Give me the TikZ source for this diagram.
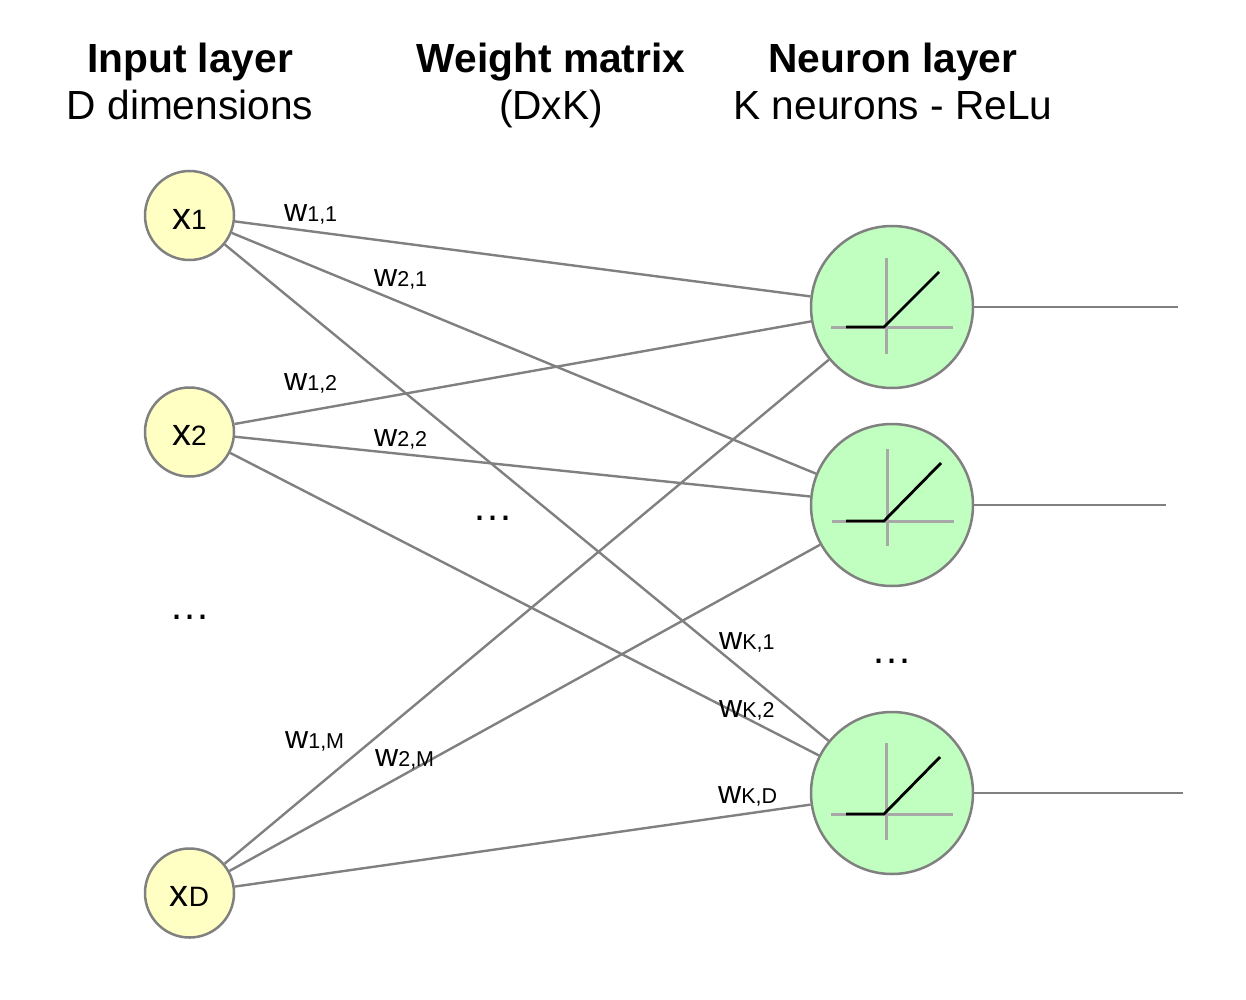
\documentclass[tikz,border=0pt]{standalone}
\usepackage{fontspec}
\setmainfont{Liberation Sans}
\newcommand{\fsz}[1]{\fontsize{#1}{#1}\selectfont}
\newcommand{\wlab}[1]{{\fsz{32}w\fsz{21.5}#1}}
\newcommand{\xlab}[1]{\raisebox{-13.5pt}[0pt][0pt]{\fsz{38}x\fsz{28}#1}}
\tikzset{
  input/.style={circle,draw=linegray,fill=inputfill,line width=2.5pt,minimum size=89pt,inner sep=0pt},
  neuron/.style={circle,draw=linegray,fill=neuronfill,line width=2.5pt,minimum size=162pt,inner sep=0pt},
  link/.style={draw=linegray,line width=2.4pt},
  axisline/.style={draw=axisgray,line width=3pt},
  relu/.style={draw=black,line width=2.8pt,line join=round},
  head/.style={anchor=base,inner sep=0pt,font=\fsz{40.7}},
  lab/.style={anchor=base west,inner sep=0pt},
  dots/.style={inner sep=0pt,font=\fsz{41}}
}
\definecolor{linegray}{RGB}{128,128,128}
\definecolor{axisgray}{RGB}{168,168,168}
\definecolor{inputfill}{RGB}{255,255,196}
\definecolor{neuronfill}{RGB}{192,255,192}
\begin{document}
\begin{tikzpicture}[x=1pt,y=-1pt]
\useasboundingbox (0,0) rectangle (1246,1000);
\node[input] (x1) at (189.5,215.5) {\xlab{1}};
\node[input] (x2) at (189.5,432) {\xlab{2}};
\node[input] (xd) at (189.5,893) {\xlab{D}};
\node[neuron] (n1) at (892,307) {};
\node[neuron] (n2) at (892,505) {};
\node[neuron] (n3) at (892,793) {};
\coordinate (o1) at (1178,307);
\coordinate (o2) at (1166,505);
\coordinate (o3) at (1183,793);
\foreach \a in {x1,x2,xd} \foreach \b in {n1,n2,n3} \draw[link] (\a) -- (\b);
\draw[link] (n1) -- (o1);
\draw[link] (n2) -- (o2);
\draw[link] (n3) -- (o3);
\draw[axisline] (886,258) -- (886,354);
\draw[axisline] (831,327) -- (953,327);
\draw[relu] (846,327) -- (884,327) -- (939,272);
\draw[axisline] (887,449) -- (887,546);
\draw[axisline] (832,521) -- (954,521);
\draw[relu] (846,521) -- (884,521) -- (941,463);
\draw[axisline] (886,743) -- (886,840);
\draw[axisline] (831,814) -- (953,814);
\draw[relu] (846,814) -- (884,814) -- (940,757);
\node[head] (h1a) at (190,73) {\textbf{Input layer}};
\node[head] (h1b) at (190,119.5) {D dimensions};
\node[head] (h2a) at (551,73) {\textbf{Weight matrix}};
\node[head] (h2b) at (551,119.5) {(DxK)};
\node[head] (h3a) at (893,73) {\textbf{Neuron layer}};
\node[head] (h3b) at (893,119.5) {K neurons - ReLu};
\node[lab] (w11) at (284,222) {\wlab{1,1}};
\node[lab] (w21) at (374,286) {\wlab{2,1}};
\node[lab] (w12) at (284,390) {\wlab{1,2}};
\node[lab] (w22) at (374,446) {\wlab{2,2}};
\node[lab] (w1m) at (285,748) {\wlab{1,M}};
\node[lab] (w2m) at (375,766) {\wlab{2,M}};
\node[lab] (wk1) at (719,649) {\wlab{K,1}};
\node[lab] (wk2) at (719,717) {\wlab{K,2}};
\node[lab] (wkd) at (718,803) {\wlab{K,D}};
\node[dots] (d1) at (190,617) {\symbol{"2026}};
\node[dots] (d2) at (493,518) {\symbol{"2026}};
\node[dots] (d3) at (892,661) {\symbol{"2026}};
\end{tikzpicture}
\end{document}
